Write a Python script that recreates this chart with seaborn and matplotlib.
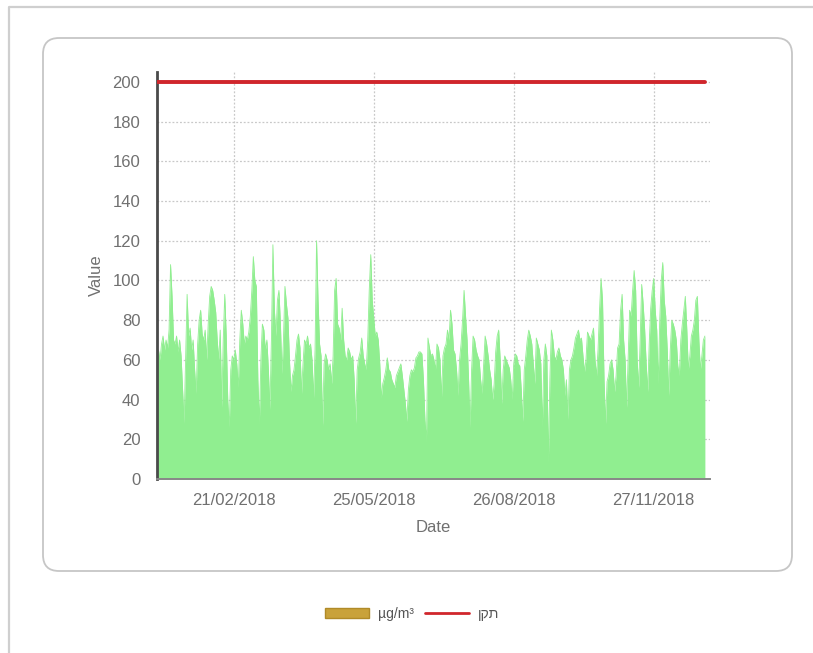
import numpy as np
import pandas as pd
import matplotlib
matplotlib.use("Agg")
import matplotlib.pyplot as plt
import matplotlib.dates as mdates
from matplotlib.patches import FancyBboxPatch, Rectangle
from matplotlib.lines import Line2D
import seaborn as sns

# ---------------- data ----------------
start_date = "2018-01-01"
no2 = [
    62, 65, 60, 68, 72, 65, 70, 66, 75, 108, 92, 70, 68, 72, 64, 70, 62, 45, 28, 60,
    93, 72, 76, 65, 70, 55, 43, 68, 80, 85, 73, 70, 75, 60, 78, 92, 97, 95, 90, 84,
    70, 60, 75, 36, 70, 93, 72, 40, 26, 55, 62, 60, 65, 58, 46, 70, 85, 78, 68, 72,
    70, 74, 82, 95, 112, 100, 97, 50, 28, 60, 78, 75, 65, 70, 55, 35, 70, 118, 85, 72,
    90, 95, 78, 53, 70, 97, 88, 81, 60, 44, 52, 55, 62, 70, 73, 66, 43, 58, 70, 68,
    72, 66, 68, 60, 41, 65, 120, 90, 68, 62, 27, 58, 63, 60, 55, 58, 48, 62, 95, 101,
    78, 76, 70, 86, 70, 62, 60, 66, 64, 60, 62, 50, 28, 55, 61, 64, 71, 62, 58, 55,
    70, 95, 113, 90, 81, 72, 74, 70, 58, 41, 48, 51, 55, 61, 55, 54, 50, 48, 46, 52,
    54, 56, 58, 52, 45, 38, 29, 45, 52, 55, 54, 56, 61, 62, 64, 64, 63, 50, 30, 19,
    71, 66, 62, 63, 60, 55, 68, 66, 60, 41, 62, 66, 68, 75, 70, 85, 78, 65, 63, 55,
    42, 60, 68, 80, 95, 82, 70, 50, 26, 55, 72, 70, 65, 62, 60, 50, 43, 58, 72, 68,
    62, 55, 50, 40, 48, 64, 72, 75, 60, 38, 55, 62, 60, 58, 56, 50, 40, 58, 63, 62,
    58, 57, 45, 29, 55, 62, 70, 75, 72, 68, 58, 48, 71, 68, 65, 58, 26, 60, 68, 62,
    8, 50, 75, 70, 62, 60, 64, 66, 62, 60, 55, 42, 50, 30, 55, 60, 62, 66, 71, 73,
    75, 70, 71, 62, 54, 60, 74, 72, 70, 73, 76, 60, 52, 65, 85, 101, 90, 50, 28, 49,
    52, 58, 60, 55, 44, 52, 66, 68, 85, 93, 70, 60, 36, 60, 85, 82, 95, 105, 95, 60,
    46, 70, 98, 88, 75, 58, 44, 68, 86, 95, 101, 85, 75, 48, 80, 100, 109, 90, 82, 65,
    42, 65, 80, 78, 75, 70, 57, 52, 70, 78, 85, 92, 75, 55, 62, 72, 75, 80, 90, 92,
    70, 55, 62, 70, 72,
]
limit_value = 200
x_tick_dates = ["2018-02-21", "2018-05-25", "2018-08-26", "2018-11-27"]
x_tick_labels = ["21/02/2018", "25/05/2018", "26/08/2018", "27/11/2018"]
y_ticks = [0, 20, 40, 60, 80, 100, 120, 140, 160, 180, 200]
series_label = "µg/m³"
limit_label = "תקן"

# ---------------- style ----------------
sns.set_style("white")
plt.rcParams["font.family"] = ["Liberation Sans", "DejaVu Sans"]

dates = pd.date_range(start_date, periods=len(no2), freq="D")
df = pd.DataFrame({"date": dates, "value": no2})

W, H = 813, 653
fig = plt.figure(figsize=(W / 100, H / 100), dpi=100)
fig.patch.set_facecolor("white")

# outer frame (only top and left edge visible)
fig.add_artist(Line2D([0.09, 0.09, 8.2], [-0.1, 6.46, 6.46], transform=fig.dpi_scale_trans,
                      color="#cfcfcf", lw=1.6, zorder=0.5))
# inner rounded panel
fig.add_artist(FancyBboxPatch((0.43, (H - 571) / 100), 7.49, 5.33,
                              boxstyle="round,pad=0,rounding_size=0.16",
                              transform=fig.dpi_scale_trans, facecolor="white",
                              edgecolor="#c6c6c6", lw=1.3, zorder=0.5))

ax = fig.add_axes([157 / W, 1 - 479 / H, (710 - 157) / W, (479 - 72) / H])
ax.set_zorder(1)
ax.set_facecolor("none")

x0 = mdates.date2num(dates[0])

ax.fill_between(dates, 0, df["value"], color="#90EE90", lw=0, zorder=2)
sns.lineplot(data=df, x="date", y="value", ax=ax, color="#90EE90", lw=0.6, zorder=2)
lim_df = pd.DataFrame({"date": [dates[0], dates[-1]], "value": [limit_value, limit_value]})
sns.lineplot(data=lim_df, x="date", y="value", ax=ax, color="#d0262c", lw=2.8, zorder=3)

ax.set_xlim(x0, x0 + 367.4)
ax.set_ylim(0, 205)

major = [mdates.date2num(pd.Timestamp(d)) for d in x_tick_dates]
minor = [m - 46.5 for m in major]
ax.set_xticks(major)
ax.set_xticklabels(x_tick_labels)
ax.set_xticks(minor, minor=True)
ax.set_yticks(y_ticks)
ax.set_yticks(list(range(10, 205, 20)), minor=True)

ax.grid(True, which="major", color="#c8c8c8", ls=(0, (1.5, 1.5)), lw=0.9, zorder=1)
ax.tick_params(axis="both", which="major", length=6, width=1.6, color="#555555",
               labelcolor="#707070", labelsize=12, direction="out")
ax.tick_params(axis="both", which="minor", length=4, width=1.4, color="#555555",
               direction="out")
ax.tick_params(axis="y", which="major", pad=6)
ax.tick_params(axis="x", which="major", pad=5, length=5)

for s in ["top", "right"]:
    ax.spines[s].set_visible(False)
ax.spines["left"].set_color("#4a4a4a")
ax.spines["left"].set_linewidth(2)
ax.spines["bottom"].set_color("#888888")
ax.spines["bottom"].set_linewidth(1.4)

ax.set_xlabel("Date", color="#707070", fontsize=12, labelpad=9)
ax.set_ylabel("Value", color="#707070", fontsize=12, labelpad=6)

handles = [Rectangle((0, 0), 1, 1, facecolor="#c9a23a", edgecolor="#b08a28"),
           Line2D([0], [0], color="#d0262c", lw=2)]
fig.legend(handles, [series_label, limit_label[::-1]], loc="center",
           bbox_to_anchor=(412 / W, 1 - 614 / H), ncol=2, frameon=False,
           fontsize=10, labelcolor="#555555", handlelength=3.2, handleheight=0.8,
           columnspacing=0.8, handletextpad=0.6)

fig.savefig("out.png", dpi=100)
